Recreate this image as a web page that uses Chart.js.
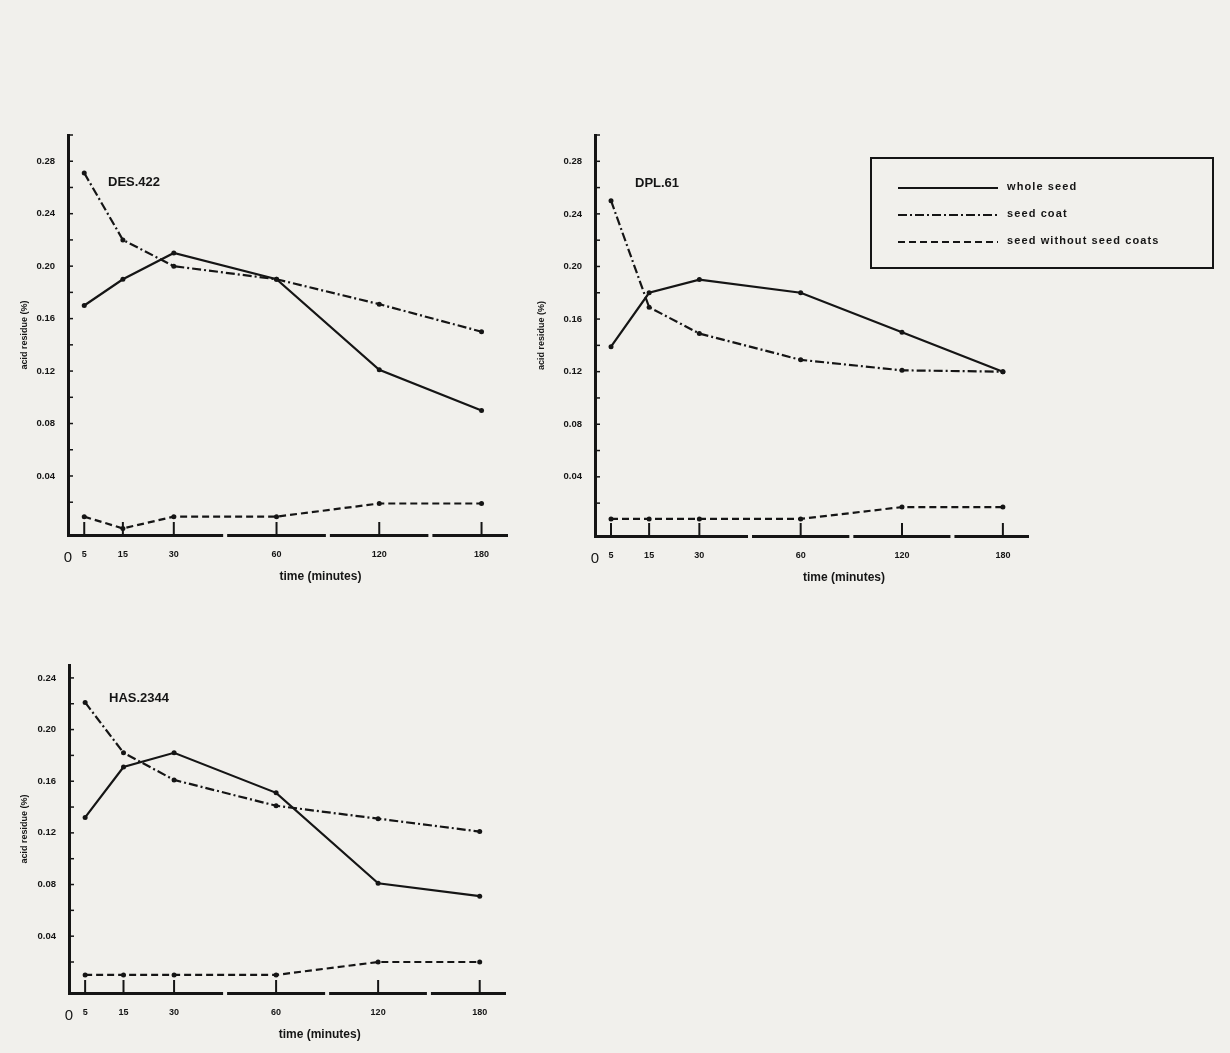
<!DOCTYPE html>
<html>
<head>
<meta charset="utf-8">
<script src="https://cdn.jsdelivr.net/npm/chart.js@4.4.0/dist/chart.umd.min.js"></script>
<style>
html, body { margin: 0; padding: 0; background: #f1f0ec; }
body { width: 1230px; height: 1053px; position: relative; overflow: hidden; font-family: "Liberation Sans", Arial, sans-serif; }
canvas { position: absolute; }
#legend { position: absolute; left: 870px; top: 157px; width: 340px; height: 108px; border: 2px solid #151515; color: #151515; }
#legend .row { position: absolute; left: 25px; height: 14px; font-size: 11px; font-weight: bold; letter-spacing: 1.1px; }
#legend svg { position: absolute; left: 0; top: 1px; }
#legend span { position: absolute; left: 110px; top: -1px; white-space: nowrap; }
</style>
</head>
<body>
<canvas id="des" width="510" height="480" style="left:10px;top:120px"></canvas>
<canvas id="dpl" width="510" height="480" style="left:530px;top:120px"></canvas>
<canvas id="has" width="510" height="413" style="left:10px;top:640px"></canvas>
<div id="legend"></div>
<script>
// time after treatment (minutes)
const timeMinutes = [5, 15, 30, 60, 120, 180];
const xTickValues = [0, 5, 15, 30, 60, 120, 180];
const seriesNames = ["whole seed", "seed coat", "seed without seed coats"];

// acid residue (%) per variety
const desWhole = [0.170, 0.190, 0.210, 0.190, 0.121, 0.090];
const desCoat = [0.271, 0.220, 0.200, 0.190, 0.171, 0.150];
const desNoCoat = [0.009, 0.000, 0.009, 0.009, 0.019, 0.019];

const dplWhole = [0.139, 0.180, 0.190, 0.180, 0.150, 0.120];
const dplCoat = [0.250, 0.169, 0.149, 0.129, 0.121, 0.120];
const dplNoCoat = [0.008, 0.008, 0.008, 0.008, 0.017, 0.017];

const hasWhole = [0.132, 0.171, 0.182, 0.151, 0.081, 0.071];
const hasCoat = [0.221, 0.182, 0.161, 0.141, 0.131, 0.121];
const hasNoCoat = [0.010, 0.010, 0.010, 0.010, 0.020, 0.020];

const yTicksTall = [0.02, 0.04, 0.06, 0.08, 0.10, 0.12, 0.14, 0.16, 0.18, 0.20, 0.22, 0.24, 0.26, 0.28, 0.30];
const yTicksShort = [0.02, 0.04, 0.06, 0.08, 0.10, 0.12, 0.14, 0.16, 0.18, 0.20, 0.22, 0.24];

const ink = "#151515";
const paper = "#f1f0ec";
const fontFamily = "'Liberation Sans', Arial, sans-serif";
const dashes = [[], [9, 3, 2, 3], [7, 4]];

// the time axis is drawn broken: 30, 60, 120, 180 evenly spaced
const knotValues = [0, 5, 15, 30, 60, 120, 180, 195];
const knotFracs = [0, 0.037, 0.125, 0.241, 0.475, 0.709, 0.942, 1];

function interp(v, xs, ys) {
    let i = 1;
    while (i < xs.length - 1 && v > xs[i]) i++;
    const t = (v - xs[i - 1]) / (xs[i] - xs[i - 1]);
    return ys[i - 1] + t * (ys[i] - ys[i - 1]);
}

class BrokenTimeScale extends Chart.LinearScale {
    getPixelForValue(value) {
        if (value === null || value === undefined) return NaN;
        return this.getPixelForDecimal(interp(value, knotValues, knotFracs));
    }
    getValueForPixel(pixel) {
        return interp(this.getDecimalForPixel(pixel), knotFracs, knotValues);
    }
}
BrokenTimeScale.id = "brokentime";
BrokenTimeScale.defaults = Chart.LinearScale.defaults;
Chart.register(BrokenTimeScale);

const paperPlugin = {
    id: "paper",
    afterDraw(chart, args, opts) {
        const {ctx, chartArea, scales} = chart;
        const x = scales.x, y = scales.y;
        ctx.save();
        ctx.strokeStyle = ink;
        ctx.lineWidth = 2;
        // tick marks pointing into the plot
        timeMinutes.forEach(t => {
            const px = x.getPixelForValue(t);
            ctx.beginPath();
            ctx.moveTo(px, chartArea.bottom);
            ctx.lineTo(px, chartArea.bottom - 13);
            ctx.stroke();
        });
        ctx.lineWidth = 1.5;
        y.ticks.forEach(tk => {
            const py = y.getPixelForValue(tk.value);
            ctx.beginPath();
            ctx.moveTo(chartArea.left, py);
            ctx.lineTo(chartArea.left + 5, py);
            ctx.stroke();
        });
        // breaks in the time axis
        ctx.fillStyle = paper;
        [45, 90, 150].forEach(v => {
            const px = x.getPixelForValue(v);
            ctx.fillRect(px - 2, chartArea.bottom - 3, 4, 6);
        });
        ctx.fillStyle = ink;
        ctx.textBaseline = "middle";
        ctx.textAlign = "left";
        ctx.font = "bold 13px " + fontFamily;
        ctx.fillText(opts.label, chartArea.left + 40, chartArea.top + opts.labelDy);
        ctx.textAlign = "center";
        ctx.font = "bold 12px " + fontFamily;
        ctx.fillText("time (minutes)", chartArea.left + 0.575 * (chartArea.right - chartArea.left), chartArea.bottom + 42);
        ctx.restore();
    }
};

function makePanel(id, label, values, yMin, yMax, yTicks, geom) {
    const datasets = values.map((vals, s) => ({
        label: seriesNames[s],
        data: timeMinutes.map((t, i) => ({x: t, y: vals[i]})),
        borderColor: ink,
        backgroundColor: ink,
        borderWidth: 2.2,
        borderDash: dashes[s],
        pointRadius: 2.5,
        pointBorderWidth: 0,
        pointBackgroundColor: ink,
        tension: 0,
        fill: false
    }));
    return new Chart(document.getElementById(id), {
        type: "line",
        data: {datasets: datasets},
        plugins: [paperPlugin],
        options: {
            responsive: false,
            animation: false,
            devicePixelRatio: 1,
            layout: {padding: {left: 0, right: geom.padRight, top: geom.padTop, bottom: 0}},
            plugins: {
                legend: {display: false},
                tooltip: {enabled: false},
                paper: {label: label, labelDy: geom.labelDy}
            },
            scales: {
                x: {
                    type: "brokentime",
                    min: 0,
                    max: 195,
                    afterBuildTicks: s => { s.ticks = xTickValues.map(v => ({value: v})); },
                    afterFit: s => { s.height = geom.xHeight; },
                    grid: {display: false},
                    border: {display: true, width: 3, color: ink},
                    ticks: {
                        autoSkip: false,
                        maxRotation: 0,
                        padding: 6,
                        color: ink,
                        font: c => (c.tick && c.tick.value === 0)
                            ? {family: fontFamily, size: 15}
                            : {family: fontFamily, size: 9, weight: "bold"},
                        callback: v => String(v)
                    }
                },
                y: {
                    type: "linear",
                    min: yMin,
                    max: yMax,
                    afterBuildTicks: s => { s.ticks = yTicks.map(v => ({value: v})); },
                    afterFit: s => { s.width = geom.yWidth; },
                    grid: {display: false},
                    border: {display: true, width: 3, color: ink},
                    ticks: {
                        autoSkip: false,
                        padding: 5,
                        color: ink,
                        font: {family: fontFamily, size: 9.5, weight: "bold"},
                        callback: v => (Math.round(v * 100) % 4 === 0) ? v.toFixed(2) : ""
                    },
                    title: {
                        display: true,
                        text: "acid residue (%)",
                        color: ink,
                        font: {family: fontFamily, size: 9, weight: "bold"},
                        padding: {top: geom.yTitlePad, bottom: 0}
                    }
                }
            }
        }
    });
}

makePanel("des", "DES.422", [desWhole, desCoat, desNoCoat], -0.005, 0.30, yTicksTall,
    {yWidth: 58, padRight: 13, padTop: 15, xHeight: 65, yTitlePad: 9, labelDy: 47});
makePanel("dpl", "DPL.61", [dplWhole, dplCoat, dplNoCoat], -0.005, 0.30, yTicksTall,
    {yWidth: 65, padRight: 12, padTop: 15, xHeight: 64, yTitlePad: 6, labelDy: 48});
makePanel("has", "HAS.2344", [hasWhole, hasCoat, hasNoCoat], -0.004, 0.25, yTicksShort,
    {yWidth: 59, padRight: 15, padTop: 25, xHeight: 60, yTitlePad: 9, labelDy: 33});

// legend box shared by the three panels
const legend = document.getElementById("legend");
seriesNames.forEach((name, s) => {
    const row = document.createElement("div");
    row.className = "row";
    row.style.top = (22 + s * 27) + "px";
    const dash = dashes[s].length ? ' stroke-dasharray="' + dashes[s].join(" ") + '"' : "";
    row.innerHTML = '<svg width="102" height="10"><line x1="1" y1="6" x2="101" y2="6" stroke="' + ink +
        '" stroke-width="2"' + dash + '/></svg><span>' + name + '</span>';
    legend.appendChild(row);
});
</script>
</body>
</html>
